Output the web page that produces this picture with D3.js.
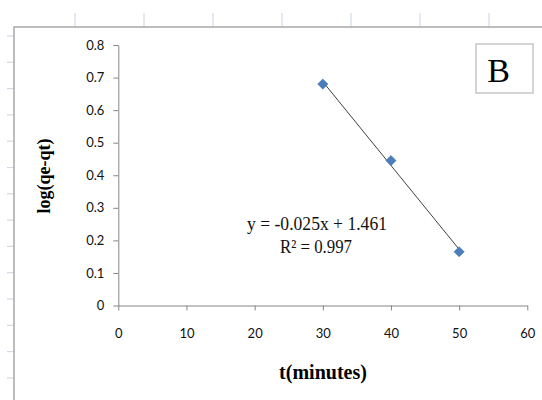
<!DOCTYPE html>
<html>
<head>
<meta charset="utf-8">
<script src="https://cdn.jsdelivr.net/npm/d3@7"></script>
<style>
  html, body { margin: 0; padding: 0; background: #fff; }
  svg { display: block; }
</style>
</head>
<body>
<script>
// ---- data ----
const timeMinutes = [30, 40, 50];
const logQeQt = [0.68, 0.445, 0.165];
const xTickValues = [0, 10, 20, 30, 40, 50, 60];
const xTickLabels = ["0", "10", "20", "30", "40", "50", "60"];
const yTickValues = [0, 0.1, 0.2, 0.3, 0.4, 0.5, 0.6, 0.7, 0.8];
const yTickLabels = ["0", "0.1", "0.2", "0.3", "0.4", "0.5", "0.6", "0.7", "0.8"];
const equationLines = ["y = -0.025x + 1.461", "R\u00B2 = 0.997"];
const panelLabel = "B";
const xTitle = "t(minutes)";
const yTitle = "log(qe-qt)";

const W = 542, H = 400;
const svg = d3.select("body").append("svg").attr("width", W).attr("height", H);

// spreadsheet background grid fragments
const gridColor = "#d3d9e6";
const colLines = d3.range(7).map(i => 75 + i * 69);
svg.append("g").selectAll("line").data(colLines).join("line")
  .attr("x1", d => d).attr("x2", d => d).attr("y1", 13).attr("y2", 27)
  .attr("stroke", gridColor).attr("stroke-width", 1.2);
const rowLines = d3.range(14).map(i => 36 + i * 26.3);
svg.append("g").selectAll("line").data(rowLines).join("line")
  .attr("x1", 7).attr("x2", 14).attr("y1", d => d).attr("y2", d => d)
  .attr("stroke", gridColor).attr("stroke-width", 1.2);

// chart frame
svg.append("rect").attr("x", 14).attr("y", 27).attr("width", 600).attr("height", 500)
  .attr("fill", "#fff").attr("stroke", "#a8a8a8").attr("stroke-width", 1.5);

// scales
const x = d3.scaleLinear().domain([0, 60]).range([118.3, 527.3]);
const y = d3.scaleLinear().domain([0, 0.8]).range([305.5, 45]);

const axisColor = "#868686";
const tickFont = "Lato, 'Liberation Sans', sans-serif";

const xAxis = svg.append("g").attr("transform", `translate(0,${y(0)})`)
  .call(d3.axisBottom(x).tickValues(xTickValues)
    .tickFormat((d, i) => xTickLabels[i]).tickSize(5).tickSizeOuter(0).tickPadding(18));
const yAxis = svg.append("g").attr("transform", `translate(${x(0)},0)`)
  .call(d3.axisLeft(y).tickValues(yTickValues)
    .tickFormat((d, i) => yTickLabels[i]).tickSize(5).tickSizeOuter(0).tickPadding(9));
[xAxis, yAxis].forEach(g => {
  g.select(".domain").attr("stroke", axisColor);
  g.selectAll(".tick line").attr("stroke", axisColor);
  g.selectAll(".tick text").attr("fill", "#111")
    .style("font-family", tickFont).style("font-size", "13px");
});

// trendline (least squares)
const mx = d3.mean(timeMinutes), my = d3.mean(logQeQt);
const slope = d3.sum(timeMinutes, (t, i) => (t - mx) * (logQeQt[i] - my)) /
              d3.sum(timeMinutes, t => (t - mx) * (t - mx));
const intercept = my - slope * mx;
const xExt = d3.extent(timeMinutes);
svg.append("line")
  .attr("x1", x(xExt[0])).attr("y1", y(slope * xExt[0] + intercept))
  .attr("x2", x(xExt[1])).attr("y2", y(slope * xExt[1] + intercept))
  .attr("stroke", "#3f3f3f").attr("stroke-width", 1);

// markers
const diamond = d3.symbol().type(d3.symbolSquare).size(52);
svg.append("g").selectAll("path").data(timeMinutes).join("path")
  .attr("d", diamond)
  .attr("transform", (d, i) => `translate(${x(d)},${y(logQeQt[i])}) rotate(45)`)
  .attr("fill", "#4a7ebb").attr("stroke", "#3d6ea8").attr("stroke-width", 0.5);

// equation
const serif = "'Liberation Serif', 'Times New Roman', serif";
const eqWidths = [140, 72];
svg.append("g").selectAll("text").data(equationLines).join("text")
  .attr("x", (d, i) => i === 0 ? 317 : 316)
  .attr("y", (d, i) => 230 + i * 23)
  .attr("text-anchor", "middle")
  .attr("textLength", (d, i) => eqWidths[i])
  .attr("lengthAdjust", "spacingAndGlyphs")
  .style("font-family", serif).style("font-size", "19.5px")
  .attr("fill", "#111")
  .text(d => d);

// panel label box
svg.append("rect").attr("x", 476).attr("y", 44).attr("width", 57).attr("height", 49)
  .attr("fill", "#fff").attr("stroke", "#d0d0d0").attr("stroke-width", 1.8);
svg.append("text").attr("x", 498.5).attr("y", 82).attr("text-anchor", "middle")
  .style("font-family", serif).style("font-size", "34px").attr("fill", "#000")
  .text(panelLabel);

// axis titles
svg.append("text").attr("x", 323).attr("y", 379).attr("text-anchor", "middle")
  .style("font-family", serif).style("font-size", "20px").style("font-weight", "bold")
  .attr("fill", "#000").text(xTitle);
svg.append("text").attr("transform", "translate(50,176) rotate(-90)")
  .attr("text-anchor", "middle")
  .style("font-family", serif).style("font-size", "18px").style("font-weight", "bold")
  .attr("fill", "#000").text(yTitle);
</script>
</body>
</html>
